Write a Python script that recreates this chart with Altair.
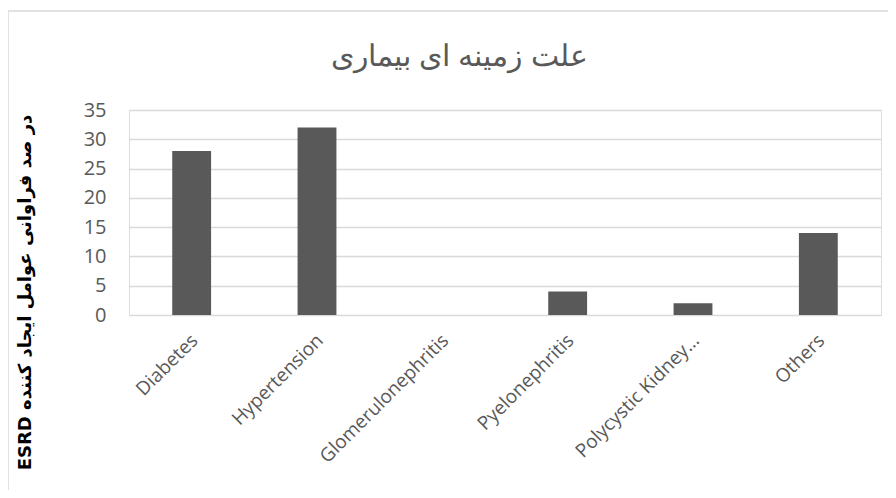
import altair as alt
import pandas as pd

categories = ["Diabetes", "Hypertension", "Glomerulonephritis", "Pyelonephritis",
              "Polycystic Kidney...", "Others"]
values = [28, 32, 0, 4, 2, 14]
y_ticks = [0, 5, 10, 15, 20, 25, 30, 35]
title_text = "علت زمینه ای بیماری"
y_title = "\u202bدر صد فراوانی عوامل ایجاد کننده ESRD\u202c"

df = pd.DataFrame({"cat": categories, "val": values})

W, H = 752, 205

bars = alt.Chart(df).mark_bar(color="#595959").encode(
    x=alt.X("cat:N", sort=categories,
            scale=alt.Scale(paddingInner=0.69, paddingOuter=0.345),
            axis=alt.Axis(title=None, labelAngle=-45, labelAlign="right",
                          labelBaseline="middle", labelFontSize=19,
                          labelFont="Open Sans", labelColor="#595959",
                          labelPadding=22, labelOffset=3, ticks=False,
                          domain=False, labelLimit=400)),
    y=alt.Y("val:Q", scale=alt.Scale(domain=[0, 35], nice=False),
            axis=alt.Axis(values=y_ticks, title=y_title, titleFontSize=18,
                          titleFont="DejaVu Sans", titleFontWeight="bold",
                          titleColor="#000000", titleAngle=270,
                          titleX=-104, titleY=182, titleAlign="center",
                          titleBaseline="middle",
                          labelFontSize=20, labelFont="Open Sans",
                          labelColor="#595959", labelPadding=23, ticks=False,
                          domain=False, gridColor="#d9d9d9", gridWidth=1.5)),
)

border = alt.Chart(alt.Data(values=[{}])).mark_rect(
    filled=False, stroke="#d9d9d9", strokeWidth=1.5
).encode(
    x=alt.value(-121), x2=alt.value(W + 12),
    y=alt.value(-99), y2=alt.value(H + 200),
)

title = alt.Chart(alt.Data(values=[{"t": title_text}])).mark_text(
    fontSize=30, font="Liberation Sans", color="#595959",
    align="center", baseline="alphabetic"
).encode(
    text="t:N", x=alt.value(330), y=alt.value(-44),
)

chart = alt.layer(border, bars, title).properties(
    width=W, height=H,
    autosize=alt.AutoSizeParams(type="none"),
    padding={"left": 121, "top": 102, "right": 7, "bottom": 175},
).configure_view(stroke=None).configure(background="white")

chart.save("out.html", embed_options={"renderer": "svg", "actions": False})
